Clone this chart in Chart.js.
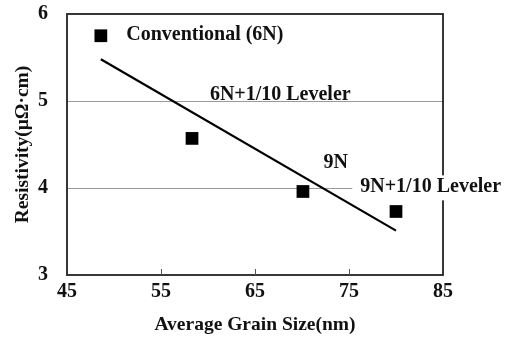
<!DOCTYPE html>
<html><head><meta charset="utf-8">
<script src="https://cdn.jsdelivr.net/npm/chart.js@4"></script>
<style>html,body{margin:0;padding:0;background:#fff}#wrap{width:507px;height:337px}</style>
</head><body><div id="wrap"><canvas id="c"></canvas></div>
<script>
const grainSize = [48.6, 58.3, 70.1, 80.0];
const resistivity = [5.75, 4.57, 3.96, 3.73];
const trendX = [48.6, 80.0];
const trendY = [5.48, 3.51];
const xTicks = [45, 55, 65, 75, 85];
const yTicks = [3, 4, 5, 6];
const labelTexts = ["Conventional (6N)", "6N+1/10 Leveler", "9N", "9N+1/10 Leveler"];
const labelAnchors = [[51.3, 5.70], [60.2, 5.01], [72.3, 4.23], [76.2, 3.95]];

const FONT = "'Liberation Serif','Times New Roman',serif";

const deco = {
  id: 'deco',
  beforeDatasetsDraw(chart) {
    const {ctx, chartArea: a, scales: {x}} = chart;
    ctx.save();
    ctx.strokeStyle = '#222';
    ctx.lineWidth = 1.8;
    ctx.strokeRect(a.left, a.top, a.right - a.left, a.bottom - a.top);
    ctx.lineWidth = 1;
    ctx.strokeStyle = '#555';
    xTicks.slice(1, -1).forEach(v => {
      const px = Math.round(x.getPixelForValue(v)) + 0.5;
      ctx.beginPath(); ctx.moveTo(px, a.bottom); ctx.lineTo(px, a.bottom - 6); ctx.stroke();
    });
    ctx.restore();
  },
  afterDatasetsDraw(chart) {
    const {ctx, scales: {x, y}} = chart;
    ctx.save();
    ctx.font = "bold 20px " + FONT;
    ctx.textBaseline = 'alphabetic';
    labelTexts.forEach((t, i) => {
      const px = x.getPixelForValue(labelAnchors[i][0]);
      const py = y.getPixelForValue(labelAnchors[i][1]);
      if (i === 3) {
        const w = ctx.measureText(t).width;
        ctx.fillStyle = '#fff';
        ctx.fillRect(px - 8, py - 17, w + 12, 25);
      }
      ctx.fillStyle = '#111';
      ctx.fillText(t, px, py);
    });
    ctx.restore();
  }
};

new Chart(document.getElementById('c'), {
  type: 'scatter',
  data: {
    datasets: [
      {
        data: grainSize.map((v, i) => ({x: v, y: resistivity[i]})),
        pointStyle: 'rect', pointRadius: 9, pointBackgroundColor: '#000', pointBorderWidth: 0,
        showLine: false
      },
      {
        data: trendX.map((v, i) => ({x: v, y: trendY[i]})),
        showLine: true, borderColor: '#000', borderWidth: 2.2, pointRadius: 0
      }
    ]
  },
  plugins: [deco],
  options: {
    responsive: true, maintainAspectRatio: false, animation: false,
    devicePixelRatio: 1,
    layout: {padding: {left: 0, right: 64, top: 14, bottom: 0}},
    plugins: {legend: {display: false}, tooltip: {enabled: false}},
    scales: {
      x: {
        type: 'linear', min: 45, max: 85,
        afterBuildTicks: s => { s.ticks = xTicks.map(v => ({value: v})); },
        afterFit: s => { s.height = 62; s.paddingLeft = 0; s.paddingRight = 0; },
        grid: {display: false},
        border: {display: false},
        ticks: {padding: -3, color: '#111', font: {family: FONT, size: 20, weight: 'bold'}},
        title: {display: true, text: 'Average Grain Size(nm)', color: '#111', padding: {top: 0, bottom: 0},
          font: {family: FONT, size: 19.5, weight: 'bold'}}
      },
      y: {
        type: 'linear', min: 3, max: 6,
        afterBuildTicks: s => { s.ticks = yTicks.map(v => ({value: v})); },
        afterFit: s => { s.width = 67; s.paddingTop = 0; s.paddingBottom = 0; },
        grid: {drawTicks: false, color: c => (c.tick && (c.tick.value === 4 || c.tick.value === 5)) ? '#9a9a9a' : 'rgba(0,0,0,0)', lineWidth: 1},
        border: {display: false},
        ticks: {padding: 19, color: '#111', font: {family: FONT, size: 20, weight: 'bold'}},
        title: {display: true, text: 'Resistivity(μΩ·cm)', color: '#111', padding: {top: 11, bottom: 0},
          font: {family: FONT, size: 19.5, weight: 'bold'}}
      }
    }
  }
});
</script></body></html>
